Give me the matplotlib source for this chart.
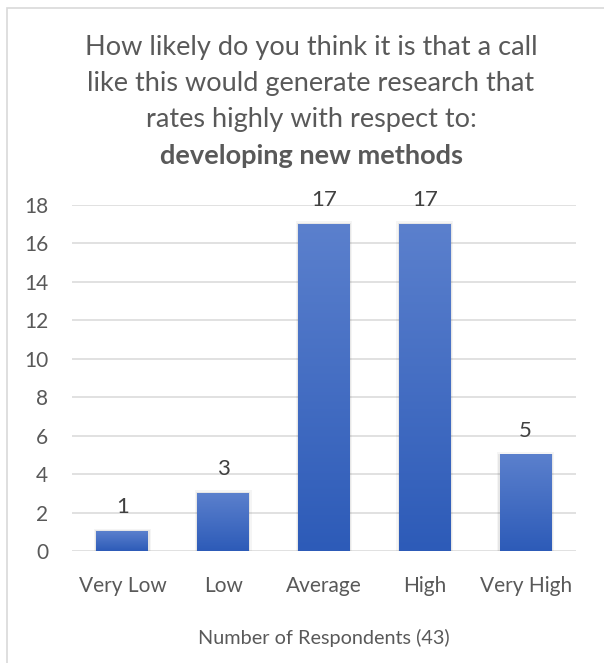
import numpy as np
import matplotlib
matplotlib.use("Agg")
import matplotlib.pyplot as plt
from matplotlib.colors import LinearSegmentedColormap
from matplotlib.patches import Rectangle

# --- data ---------------------------------------------------------------
CATEGORIES = ["Very Low", "Low", "Average", "High", "Very High"]
COUNTS = [1, 3, 17, 17, 5]
YTICKS = [0, 2, 4, 6, 8, 10, 12, 14, 16, 18]

TITLE = ["How likely do you think it is that a call",
         "like this would generate research that",
         "rates highly with respect to:"]
TITLE_BOLD = "developing new methods"
XLABEL = "Number of Respondents (43)"

INK = "#595959"
GRID = "#d9d9d9"
TOP = "#5b80cd"
BOTTOM = "#2d5bb8"

plt.rcParams["font.family"] = ["Lato", "DejaVu Sans"]

fig = plt.figure(figsize=(6.04, 6.63), dpi=100)
fig.patch.set_facecolor("white")

# chart frame (light grey, runs off right/bottom edges)
fig.add_artist(Rectangle((7 / 604, -0.05), 1.2, (663 - 8) / 663 + 0.05,
                         transform=fig.transFigure, fill=False,
                         ec=GRID, lw=1.2))

ax = fig.add_axes([72 / 604, 112 / 663, 504 / 604, 346 / 663])
ax.set_xlim(-0.5, len(CATEGORIES) - 0.5)
ax.set_ylim(0, 18)

for s in ax.spines.values():
    s.set_visible(False)
ax.set_yticks(YTICKS)
ax.yaxis.grid(True, color=GRID, lw=1.1)
ax.set_axisbelow(True)
ax.tick_params(axis="both", length=0, colors=INK, labelsize=15)
ax.tick_params(axis="y", pad=17)
ax.tick_params(axis="x", pad=18)

x = np.arange(len(CATEGORIES))
bars = ax.bar(x, COUNTS, width=0.515, color="none", zorder=3)

cmap = LinearSegmentedColormap.from_list("bar", [BOTTOM, TOP])
grad = np.linspace(0, 1, 256).reshape(-1, 1)
for b, v in zip(bars, COUNTS):
    x0, w, h = b.get_x(), b.get_width(), b.get_height()
    # soft shadow
    for k, a in ((0.025, 0.04), (0.012, 0.06)):
        ax.add_patch(Rectangle((x0 - k, -0.05), w + 2 * k, h + 0.05 + k * 6,
                               fc="#000000", alpha=a, ec="none", zorder=2))
    ax.imshow(grad, cmap=cmap, origin="lower", aspect="auto",
              extent=(x0, x0 + w, 0, h), zorder=4)
    ax.annotate(str(v), (b.get_x() + w / 2, h), xytext=(0, 17.5),
                textcoords="offset points", ha="center", va="center",
                fontsize=16, color="#404040", zorder=5)

ax.set_xlim(-0.5, len(CATEGORIES) - 0.5)
ax.set_ylim(0, 18)
ax.set_xticks(x, CATEGORIES)
ax.set_xlabel(XLABEL, color=INK, fontsize=14.3, labelpad=24)

# title
for i, line in enumerate(TITLE):
    fig.text(311 / 604, 1 - (47 + 36.5 * i) / 663, line, ha="center",
             va="center", fontsize=19.5, color=INK)
fig.text(311 / 604, 1 - 156 / 663, TITLE_BOLD, ha="center", va="center",
         fontsize=19.5, color=INK, fontweight="bold")

fig.savefig("out.png", dpi=100, facecolor="white")
